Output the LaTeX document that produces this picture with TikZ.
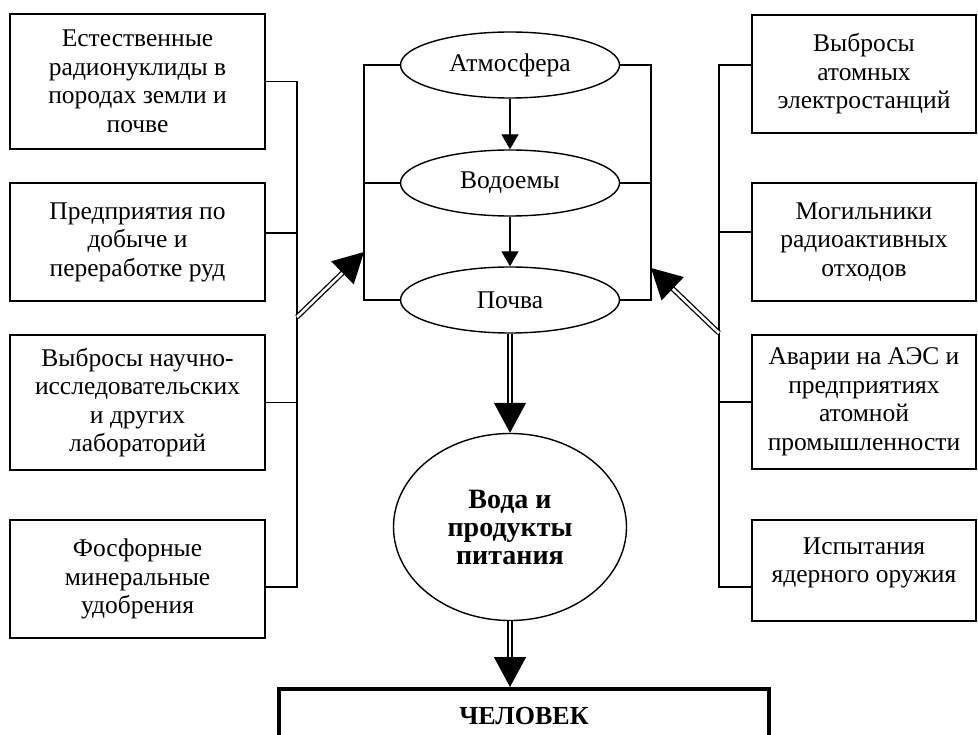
\documentclass[tikz,border=0pt]{standalone}
\usepackage{fontspec}
\setmainfont{Liberation Serif}
\usetikzlibrary{arrows.meta,shapes.geometric}

\begin{document}
\begin{tikzpicture}[x=1pt,y=-1pt,
    src_box/.style={rectangle,draw,line width=1.4pt,align=center,inner sep=0pt,font=\fontsize{25.5}{28.5}\selectfont},
    left_box/.style={src_box,minimum width=255pt},
    right_box/.style={src_box,minimum width=224pt},
    way_ell/.style={ellipse,draw,line width=1.4pt,minimum width=219pt,minimum height=66pt,inner sep=0pt,font=\fontsize{25.5}{28.5}\selectfont},
    food_ell/.style={ellipse,draw,line width=1.4pt,minimum width=233pt,minimum height=187pt,inner sep=0pt,align=center,font=\fontsize{28}{28}\selectfont\bfseries},
    man_box/.style={rectangle,draw,line width=4pt,minimum width=490pt,text height=15pt,text depth=40pt,inner ysep=20pt,font=\fontsize{26}{28}\selectfont\bfseries},
    link/.style={line width=1.4pt},
    thin_arr/.style={line width=1.4pt,-{Triangle[length=15pt,width=17pt]}},
    fat_arr/.style={double,double distance=2.6pt,line width=1.3pt,-{Triangle[length=30pt,width=32pt]}}
  ]
    \clip (0,0) rectangle (978,735);

    % sources, left
    \node[left_box,minimum height=135pt] (l1) at (137.5,81.5) {Естественные\\радионуклиды в\\породах земли и\\почве};
    \node[left_box,minimum height=118pt] (l2) at (137.5,242) {Предприятия по\\добыче и\\переработке руд};
    \node[left_box,minimum height=135pt] (l3) at (137.5,402.5) {Выбросы научно-\\исследовательских\\и других\\лабораторий};
    \node[left_box,minimum height=118pt] (l4) at (137.5,579) {Фосфорные\\минеральные\\удобрения};

    % sources, right
    \node[right_box,minimum height=118pt] (r1) at (864,74) {Выбросы\\атомных\\электростанций};
    \node[right_box,minimum height=118pt] (r2) at (864,242) {Могильники\\радиоактивных\\отходов};
    \node[right_box,minimum height=134pt] (r3) at (864,402) {Аварии на АЭС и\\предприятиях\\атомной\\промышленности};
    \node[right_box,minimum height=101pt,text depth=21pt] (r4) at (864,570.5) {Испытания\\ядерного оружия};

    % pathways
    \node[way_ell] (atm) at (510,65) {Атмосфера};
    \node[way_ell] (vod) at (510,183) {Водоемы};
    \node[way_ell] (poch) at (510,300) {Почва};
    \node[food_ell] (food) at (510,527) {Вода и\\продукты\\питания};
    \node[man_box,anchor=north] (man) at (524,687) {ЧЕЛОВЕК};

    \coordinate (lbus) at (297,0);
    \coordinate (rbus) at (719,0);
    \coordinate (lbr) at (364,0);
    \coordinate (rbr) at (651,0);
    \coordinate (l2c) at ([yshift=9pt]l2.east);
    \coordinate (l4c) at ([yshift=-8pt]l4.east);
    \coordinate (r1c) at ([yshift=9pt]r1.west);
    \coordinate (r2c) at ([yshift=10pt]r2.west);
    \coordinate (r4c) at ([yshift=-16.5pt]r4.west);

    % buses
    \draw[link] (l1.east) -- (l1.east -| lbus) -- (l4c -| lbus) -- (l4c);
    \draw[link] (l2c) -- (l2c -| lbus);
    \draw[link] (l3.east) -- (l3.east -| lbus);
    \draw[link] (r1c) -- (r1c -| rbus) -- (r4c -| rbus) -- (r4c);
    \draw[link] (r2c) -- (r2c -| rbus);
    \draw[link] (r3.west) -- (r3.west -| rbus);

    % brackets
    \draw[link] (atm.west) -- (atm.west -| lbr) -- (poch.west -| lbr) -- (poch.west);
    \draw[link] (vod.west) -- (vod.west -| lbr);
    \draw[link] (atm.east) -- (atm.east -| rbr) -- (poch.east -| rbr) -- (poch.east);
    \draw[link] (vod.east) -- (vod.east -| rbr);

    \draw[thin_arr] (atm.south) -- (vod.north);
    \draw[thin_arr] (vod.south) -- (poch.north);

    \coordinate (lsrc) at (297,317);
    \coordinate (ldst) at (364,252);
    \coordinate (rsrc) at (719,333);
    \coordinate (rdst) at (651,268);
    \draw[fat_arr] (lsrc) -- (ldst);
    \draw[fat_arr] (rsrc) -- (rdst);
    \draw[fat_arr] (poch.south) -- (food.north);
    \draw[fat_arr] (food.south) -- (food.south |- man.north);
  \end{tikzpicture}
\end{document}
